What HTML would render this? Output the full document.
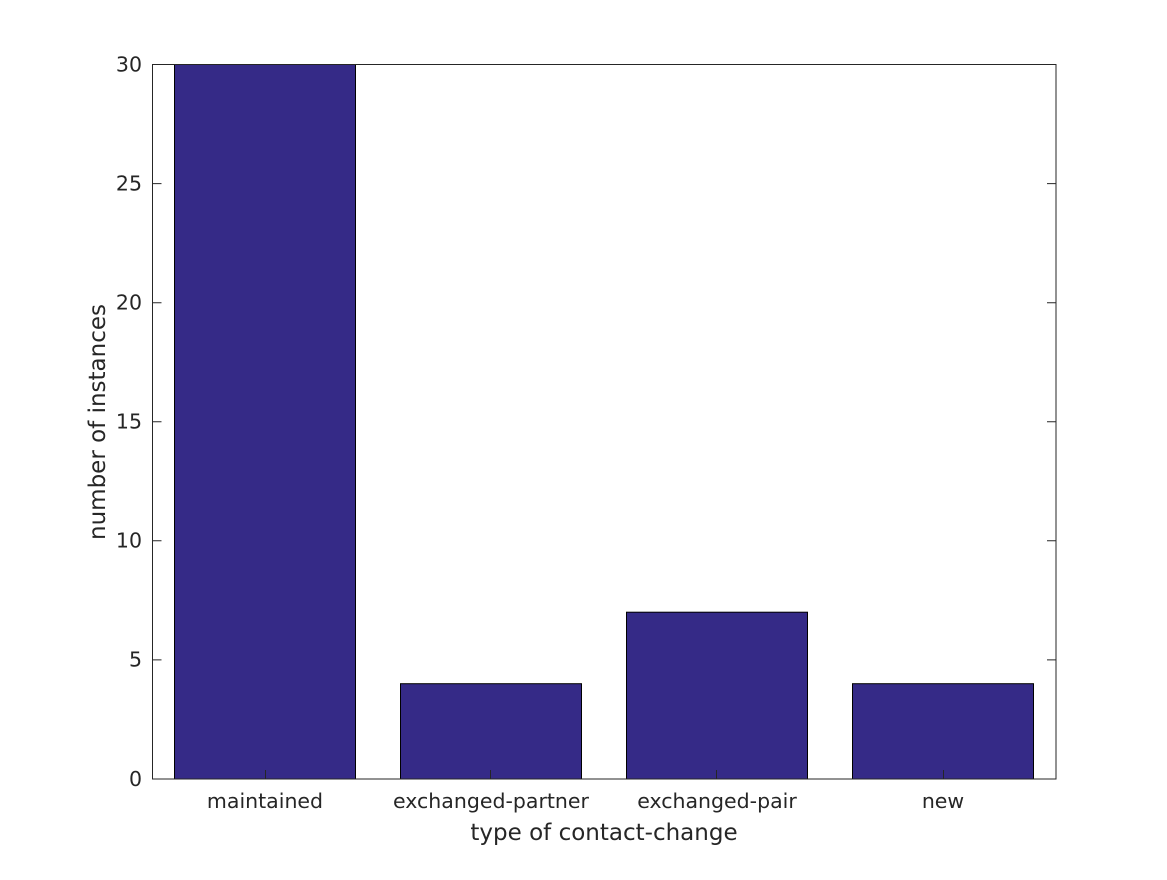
<!DOCTYPE html>
<html><head><style>body{margin:0;background:#fff}</style></head><body>
<svg width="1167" height="875" xmlns="http://www.w3.org/2000/svg" font-family="DejaVu Sans, Liberation Sans, sans-serif" fill="#262626">
<rect width="1167" height="875" fill="#fff"/>
<g fill="#352a87" stroke="#000" stroke-width="1">
<rect x="174.5" y="64.5" width="181" height="714.5"/>
<rect x="400.5" y="683.7" width="181" height="95.3"/>
<rect x="626.5" y="612.2" width="181" height="166.8"/>
<rect x="852.5" y="683.7" width="181" height="95.3"/>
</g>
<rect x="152.5" y="64.5" width="903.5" height="714.5" fill="none" stroke="#262626" stroke-width="1"/>
<g stroke="#262626" stroke-width="1">
<path d="M152.5 64.5h9M152.5 183.6h9M152.5 302.7h9M152.5 421.8h9M152.5 540.8h9M152.5 659.9h9"/>
<path d="M1056 64.5h-9M1056 183.6h-9M1056 302.7h-9M1056 421.8h-9M1056 540.8h-9M1056 659.9h-9"/>
<path d="M265.5 779v-9M490.5 779v-9M716.5 779v-9M943.5 779v-9"/>
</g>
<g font-size="20.5" text-anchor="end">
<text x="142" y="71.5">30</text><text x="142" y="190.5">25</text><text x="142" y="309.5">20</text>
<text x="142" y="428.5">15</text><text x="142" y="547.5">10</text><text x="142" y="666.5">5</text><text x="142" y="786">0</text>
</g>
<g font-size="20.5" text-anchor="middle">
<text x="265" y="808">maintained</text>
<text x="491" y="808">exchanged-partner</text>
<text x="717" y="808">exchanged-pair</text>
<text x="943" y="808">new</text>
<text x="604" y="840" font-size="23">type of contact-change</text>
<text transform="translate(105,422) rotate(-90)" font-size="23">number of instances</text>
</g>
</svg>
</body></html>
